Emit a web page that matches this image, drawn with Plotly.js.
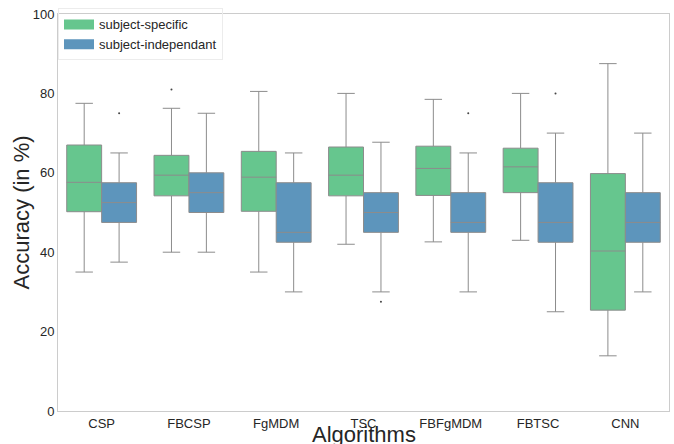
<!DOCTYPE html>
<html>
<head>
<meta charset="utf-8">
<script src="https://cdn.plot.ly/plotly-3.0.1.min.js"></script>
<style>html,body{margin:0;padding:0;background:#fff;}#chart{width:674px;height:444px;}</style>
</head>
<body>
<div id="chart"></div>
<script>
const categories = ['CSP', 'FBCSP', 'FgMDM', 'TSC', 'FBFgMDM', 'FBTSC', 'CNN'];

// subject-specific
const ssUpper  = [77.5, 76.25, 80.5, 80.0, 78.5, 80.0, 87.5];
const ssQ3     = [67.0, 64.4, 65.4, 66.5, 66.7, 66.2, 59.8];
const ssMedian = [57.6, 59.4, 58.9, 59.4, 61.1, 61.5, 40.3];
const ssQ1     = [50.2, 54.2, 50.3, 54.2, 54.3, 55.0, 25.4];
const ssLower  = [35.0, 40.0, 35.0, 42.0, 42.6, 43.0, 13.9];
const ssOutCat = ['FBCSP'];
const ssOutVal = [81.0];

// subject-independant
const siUpper  = [65.0, 75.0, 65.0, 67.7, 65.0, 70.0, 70.0];
const siQ3     = [57.5, 60.0, 57.5, 55.0, 55.0, 57.5, 55.0];
const siMedian = [52.5, 55.0, 45.0, 50.0, 47.5, 47.5, 47.5];
const siQ1     = [47.5, 50.0, 42.5, 45.0, 45.0, 42.5, 42.5];
const siLower  = [37.5, 40.0, 30.0, 30.0, 30.0, 25.0, 30.0];
const siOutCat = ['CSP', 'TSC', 'FBFgMDM', 'FBTSC'];
const siOutVal = [75.0, 27.5, 75.0, 80.0];

const seriesNames = ['subject-specific', 'subject-independant'];
const seriesColors = ['#66c68e', '#5d95bc'];
const xTitle = 'Algorithms';
const yTitle = 'Accuracy (in %)';

const half = 0.2;
const idx = categories.map((c, i) => i);
const edge = '#8c8c8c';

function boxTrace(off, q1, med, q3, lo, hi, color) {
  return {
    type: 'box',
    x: idx.map(i => i + off),
    q1: q1, median: med, q3: q3, lowerfence: lo, upperfence: hi,
    width: 0.4,
    whiskerwidth: 0.5,
    boxpoints: false,
    fillcolor: color,
    line: {color: edge, width: 1},
    showlegend: false,
    hoverinfo: 'skip'
  };
}
function outTrace(off, cats, vals) {
  return {
    type: 'scatter', mode: 'markers',
    x: cats.map(c => categories.indexOf(c) + off),
    y: vals,
    marker: {size: 2, color: '#444'},
    showlegend: false, hoverinfo: 'skip'
  };
}
function legendTrace(name, color) {
  return {type: 'scatter', mode: 'lines', x: [null], y: [null], name: name,
          line: {color: color, width: 10}, showlegend: true};
}

const data = [
  boxTrace(-half, ssQ1, ssMedian, ssQ3, ssLower, ssUpper, seriesColors[0]),
  boxTrace(half, siQ1, siMedian, siQ3, siLower, siUpper, seriesColors[1]),
  outTrace(-half, ssOutCat, ssOutVal),
  outTrace(half, siOutCat, siOutVal),
  legendTrace(seriesNames[0], seriesColors[0]),
  legendTrace(seriesNames[1], seriesColors[1])
];

const font = 'Liberation Sans, Arial, sans-serif';
const layout = {
  width: 674, height: 444,
  margin: {l: 58, r: 5, t: 14, b: 33},
  paper_bgcolor: '#fff', plot_bgcolor: '#fff',
  font: {family: font, color: '#262626', size: 13},
  showlegend: true,
  legend: {x: 0, y: 1.014, xanchor: 'left', yanchor: 'top',
           bgcolor: 'rgba(255,255,255,0)', bordercolor: '#ececec', borderwidth: 1,
           font: {family: font, size: 13, color: '#262626'}},
  xaxis: {
    range: [-0.5, 6.5], tickvals: idx, ticktext: categories,
    showgrid: false, zeroline: false, showline: true, mirror: true,
    linecolor: '#cccccc', linewidth: 1, ticks: '',
    automargin: false,
    tickfont: {family: font, size: 13, color: '#262626'}
  },
  yaxis: {
    range: [0, 100], tickvals: [0, 20, 40, 60, 80, 100],
    showgrid: false, zeroline: false, showline: true, mirror: true,
    linecolor: '#cccccc', linewidth: 1, ticks: '',
    automargin: false,
    tickfont: {family: font, size: 13, color: '#262626'}
  },
  annotations: [
    {text: xTitle, xref: 'paper', yref: 'paper', x: 0.5, y: -0.059,
     xanchor: 'center', yanchor: 'middle', showarrow: false,
     font: {family: font, size: 22, color: '#262626'}},
    {text: yTitle, xref: 'paper', yref: 'paper', x: -0.059, y: 0.5, textangle: -90,
     xanchor: 'center', yanchor: 'middle', showarrow: false,
     font: {family: font, size: 22, color: '#262626'}}
  ]
};

Plotly.newPlot('chart', data, layout, {displayModeBar: false, staticPlot: true});
</script>
</body>
</html>
